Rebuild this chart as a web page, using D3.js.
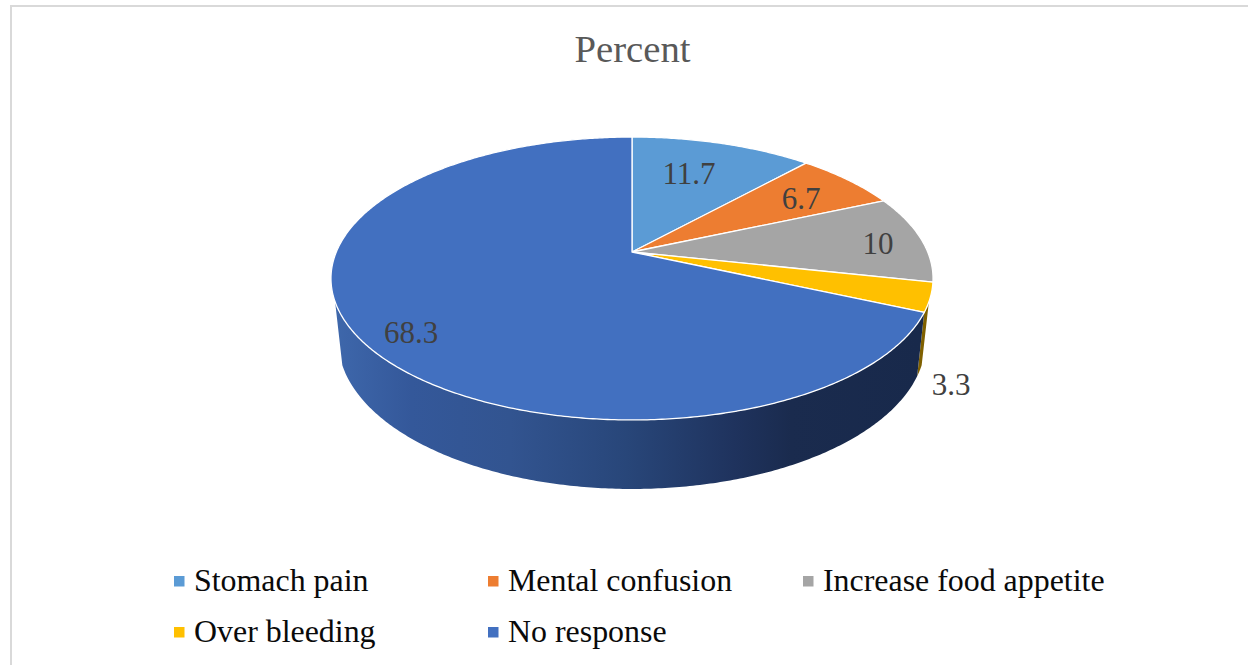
<!DOCTYPE html>
<html>
<head>
<meta charset="utf-8">
<style>
  html, body { margin: 0; padding: 0; background: #fff; }
  svg { display: block; }
  text { font-family: "Liberation Serif", "Times New Roman", serif; }
</style>
<script src="https://cdn.jsdelivr.net/npm/d3@7"></script>
</head>
<body>
<svg id="chart" width="1248" height="665"></svg>
<script>
// Chart content
const categories = ["Stomach pain", "Mental confusion", "Increase food appetite", "Over bleeding", "No response"];
const percents = [11.7, 6.7, 10, 3.3, 68.3];
const valueLabels = ["11.7", "6.7", "10", "3.3", "68.3"];
const sliceColors = ["#5b9bd5", "#ed7d31", "#a5a5a5", "#ffc000", "#4270c0"];
const chartTitle = "Percent";

// Page layout
const width = 1248, height = 665;
const apex = { x: 632, y: 252 };
const tilt = { a: 295.7, b: 136.5, k: 0.1873 };      // perspective of the top face
const floor = { a: 288.5, b: 143, k: 0.1873, y: 313 }; // perspective of the lower rim
const labelPos = [[689, 184], [801, 209], [878, 254], [951, 395], [411, 343]];
const legendPos = [[174, 591], [488, 591], [803, 591], [174, 642], [488, 642]];

const svg = d3.select("#chart");
const color = d3.scaleOrdinal().domain(categories).range(sliceColors);

// Projects an angle on the disc to the screen through a simple perspective divide.
function rim(p, cy, angle) {
  const u = Math.sin(angle), v = Math.cos(angle), w = 1 + p.k * v;
  return [apex.x + p.a * u / w, cy - p.b * v / w];
}
const topRim = a => rim(tilt, apex.y, a);
const lowRim = a => rim(floor, floor.y, a);
const arcSteps = (a0, a1) => {
  const n = Math.max(2, Math.ceil(Math.abs(a1 - a0) / 0.01));
  return d3.range(n + 1).map(i => a0 + (a1 - a0) * i / n);
};
const line = d3.line();

const arcs = d3.pie().sort(null).value(d => d)(percents);

// Shaded wall under the front of the disc
const defs = svg.append("defs");
const grad = defs.append("linearGradient")
  .attr("id", "wall").attr("gradientUnits", "userSpaceOnUse")
  .attr("x1", 335).attr("x2", 920).attr("y1", 0).attr("y2", 0);
[[0, "#3e67ab"], [0.13, "#34589a"], [0.3, "#325490"], [0.5, "#284679"],
 [0.68, "#1f335e"], [0.78, "#1a2b4e"], [1, "#18294b"]]
  .forEach(([o, c]) => grad.append("stop").attr("offset", o).attr("stop-color", c));

function wall(a0, a1) {
  const steps = arcSteps(a0, a1);
  return line(steps.map(topRim).concat(steps.slice().reverse().map(lowRim))) + "Z";
}
const rightEdge = 110 * Math.PI / 180, leftEdge = 250 * Math.PI / 180;
const yellowArc = arcs[3], blueArc = arcs[4];

svg.append("path").attr("d", wall(rightEdge, yellowArc.endAngle)).attr("fill", "#7f6000");
svg.append("path").attr("d", wall(blueArc.startAngle, leftEdge)).attr("fill", "url(#wall)");

// Top face
svg.append("g").selectAll("path").data(arcs).join("path")
  .attr("d", d => line([[apex.x, apex.y]].concat(arcSteps(d.startAngle, d.endAngle).map(topRim))) + "Z")
  .attr("fill", (d, i) => color(categories[i]))
  .attr("stroke", "#ffffff").attr("stroke-width", 1.3).attr("stroke-linejoin", "round");

// Chart frame, open on the right and at the bottom
svg.append("path").attr("d", "M11,665V6H1248").attr("fill", "none")
  .attr("stroke", "#d9d9d9").attr("stroke-width", 2);

svg.append("text").attr("x", 632.5).attr("y", 62).attr("text-anchor", "middle")
  .attr("font-size", 38.7).attr("fill", "#595959").text(chartTitle);

// Value labels
svg.append("g").selectAll("text").data(valueLabels).join("text")
  .attr("x", (d, i) => labelPos[i][0]).attr("y", (d, i) => labelPos[i][1])
  .attr("text-anchor", "middle").attr("font-size", 31).attr("fill", "#404040")
  .text(d => d);

// Legend
const legend = svg.append("g").selectAll("g").data(categories).join("g")
  .attr("transform", (d, i) => `translate(${legendPos[i][0]},${legendPos[i][1]})`);
legend.append("rect").attr("x", 0).attr("y", -15).attr("width", 10.5).attr("height", 10.5)
  .attr("fill", d => color(d));
legend.append("text").attr("x", 20).attr("y", 0).attr("font-size", 31.9).attr("fill", "#0a0a0a")
  .text(d => d);
</script>
</body>
</html>
